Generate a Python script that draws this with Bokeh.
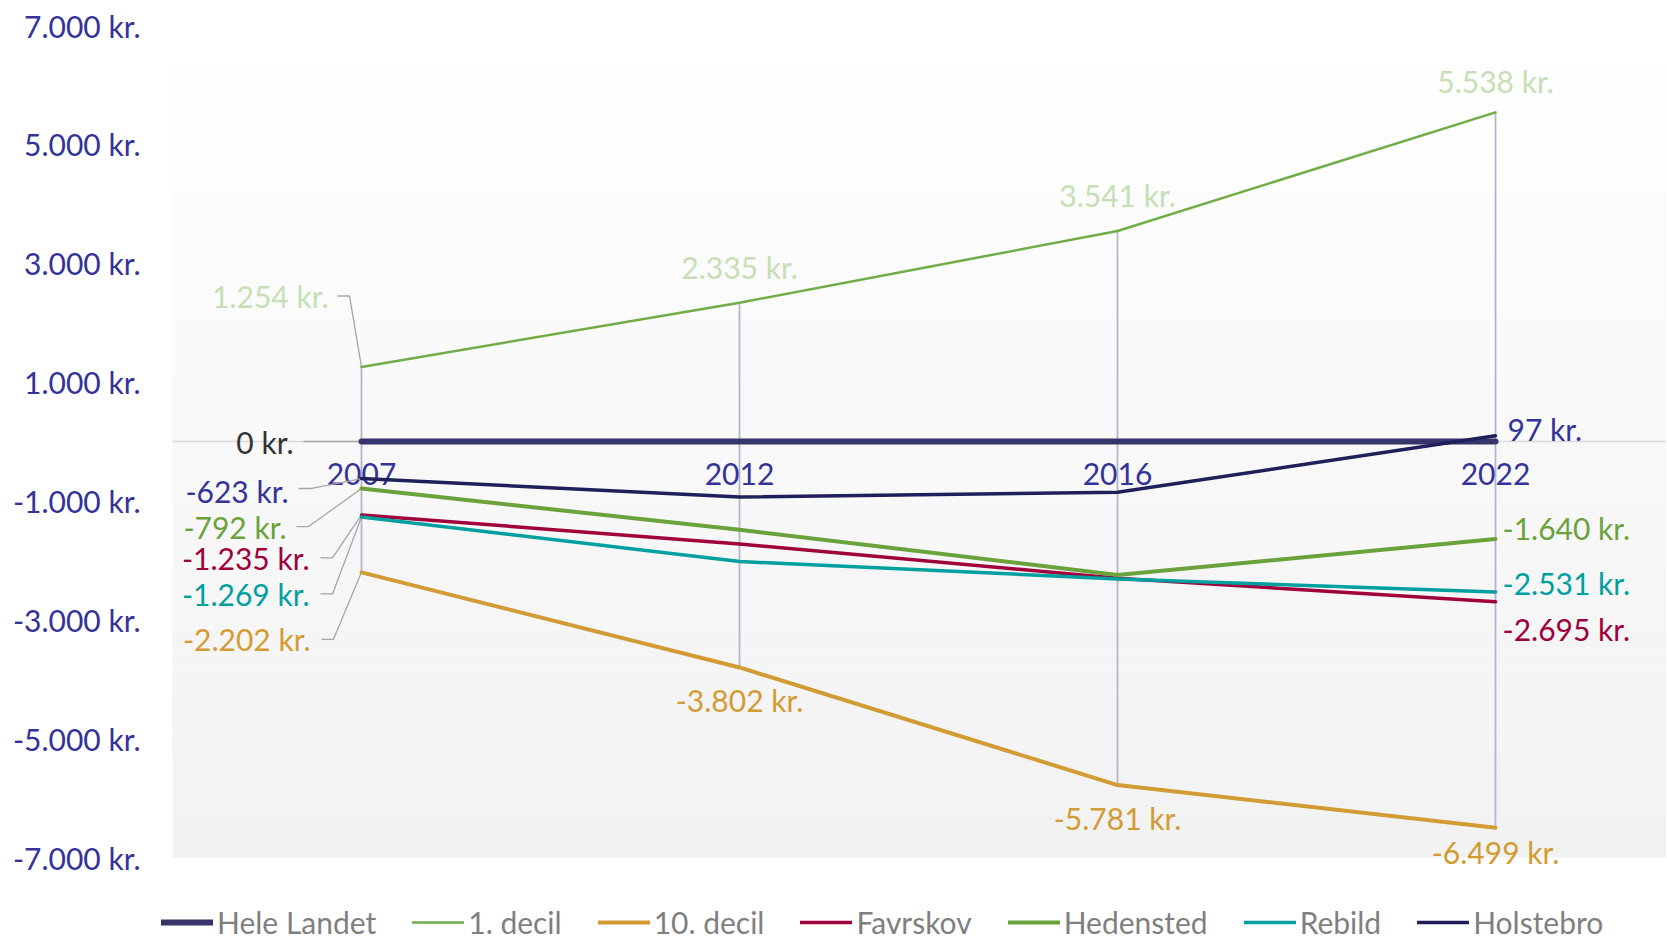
from bokeh.plotting import figure
from bokeh.models import Legend, LegendItem, FixedTicker
from bokeh.core.properties import value
from bokeh.embed import file_html
from bokeh.resources import INLINE

# ---------------- data ----------------
years = ["2007", "2012", "2016", "2022"]
hele_landet = [0, 0, 0, 0]
decil_1 = [1254, 2335, 3541, 5538]
decil_10 = [-2202, -3802, -5781, -6499]
favrskov = [-1235, -1725, -2300, -2695]
hedensted = [-792, -1486, -2245, -1640]
rebild = [-1269, -2020, -2312, -2531]
holstebro = [-623, -935, -855, 97]

y_ticks = [7000, 5000, 3000, 1000, -1000, -3000, -5000, -7000]
plot_area = (-7000, 7000)

# ---------------- style ----------------
FONT = value("Lato")
FS = "30px"
AXIS_BLUE = "#333399"

series = [
    ("Hele Landet", hele_landet, "#35356b", 6.0, "#333333"),
    ("1. decil", decil_1, "#70ad47", 2.5, "#c5e0b4"),
    ("10. decil", decil_10, "#d29b34", 4.0, "#d29b34"),
    ("Favrskov", favrskov, "#a0003c", 3.5, "#a0003c"),
    ("Hedensted", hedensted, "#6aa23c", 4.0, "#6aa23c"),
    ("Rebild", rebild, "#00a0a0", 3.5, "#00a0a0"),
    ("Holstebro", holstebro, "#1f1f5c", 3.5, "#333399"),
]

# label layout: (index, x_offset px, y_offset px, align, leader polyline in px offsets or None)
label_layout = {
    "Hele Landet": [(0, -68, 0, "right", [(-58, 0), (-3, 0)])],
    "1. decil": [(0, -33, -71, "right", [(-24, -71), (-12, -71), (0, 0)]),
                 (1, 0, -36, "center", None),
                 (2, 0, -36, "center", None),
                 (3, 0, -31, "center", None)],
    "10. decil": [(0, -51, 67, "right", [(-40, 67), (-28, 67), (0, 0)]),
                  (1, 0, 33, "center", None),
                  (2, 0, 33, "center", None),
                  (3, 0, 24, "center", None)],
    "Favrskov": [(0, -52, 43, "right", [(-41, 43), (-29, 43), (0, 0)]),
                 (3, 7, 27, "left", None)],
    "Hedensted": [(0, -75, 38, "right", [(-65, 38), (-53, 38), (0, 0)]),
                  (3, 7, -11, "left", None)],
    "Rebild": [(0, -52, 77, "right", [(-41, 77), (-29, 77), (0, 0)]),
               (3, 7, -9, "left", None)],
    "Holstebro": [(0, -73, 12, "right", [(-63, 10), (-51, 10), (0, 0)]),
                  (3, 12, -7, "left", None)],
}


def fmt(v):
    return f"{v:,}".replace(",", ".") + " kr."


# geometry (pixels)
CANVAS_W, CANVAS_H = 1666, 942
FRAME_LEFT = 150          # frame starts here (room for legend at left)
AREA_LEFT = 172           # plot-area (gradient) left edge
CAT_STEP = 378            # px between categories
AREA_TOP, AREA_BOTTOM = 25, 857   # px of +7000 / -7000

FRAME_W = CANVAS_W - FRAME_LEFT
FRAME_H = CANVAS_H
PX_X = CAT_STEP
PX_Y = (AREA_BOTTOM - AREA_TOP) / (plot_area[1] - plot_area[0])

X_START = -0.5 - (AREA_LEFT - FRAME_LEFT) / PX_X
X_END = X_START + FRAME_W / PX_X
Y_END = plot_area[1] + AREA_TOP / PX_Y
Y_START = plot_area[0] - (FRAME_H - AREA_BOTTOM) / PX_Y

p = figure(
    frame_width=FRAME_W, frame_height=FRAME_H,
    x_range=(X_START, X_END), y_range=(Y_START, Y_END),
    x_axis_location=None,
    output_backend="svg", toolbar_location=None,
    min_border=0, min_border_left=FRAME_LEFT,
)
p.outline_line_color = None
p.xgrid.visible = False
p.ygrid.visible = False
p.background_fill_color = "#ffffff"
p.border_fill_color = "#ffffff"

# gradient plot-area background (white -> light grey)
n_bands = 40
top, bot = plot_area[1], plot_area[0]
edges = [top - i * (top - bot) / n_bands for i in range(n_bands + 1)]
cols = []
for i in range(n_bands):
    t = i / (n_bands - 1)
    c = int(round(255 - t * (255 - 0xf2)))
    cols.append("#%02x%02x%02x" % (c, c, c))
p.quad(left=-0.5, right=X_END + 1, top=edges[:-1], bottom=edges[1:], fill_color=cols, line_color=None)

# y axis
ax = p.yaxis[0]
ax.ticker = FixedTicker(ticks=y_ticks)
ax.major_label_overrides = {t: fmt(t) for t in y_ticks}
ax.axis_line_color = None
ax.major_tick_line_color = None
ax.minor_tick_line_color = None
ax.major_tick_out = 0
ax.major_tick_in = 0
ax.major_label_standoff = 10
ax.major_label_text_font = "Lato"
ax.major_label_text_font_size = FS
ax.major_label_text_color = AXIS_BLUE

xs = list(range(len(years)))

# zero line (category axis) across plot area
p.segment(x0=[-0.5], y0=[0], x1=[X_END + 1], y1=[0], line_color="#d9d9d9", line_width=1.5)

# high-low lines
all_vals = [s[1] for s in series]
hi = [max(v[i] for v in all_vals) for i in xs]
lo = [min(v[i] for v in all_vals) for i in xs]
p.segment(x0=xs, y0=hi, x1=xs, y1=lo, line_color="#b4b4c8", line_width=1.75)

# category labels at zero line
p.text(x=xs, y=[0] * len(xs), text=years, text_font=FONT, text_font_size=FS,
       text_color=AXIS_BLUE, text_align="center", text_baseline="middle", y_offset=32)

# leader lines
for name, vals, color, lw, lcolor in series:
    for idx, xo, yo, align, leader in label_layout.get(name, []):
        if leader:
            lx = [idx + dx / PX_X for dx, dy in leader]
            ly = [vals[idx] - dy / PX_Y for dx, dy in leader]
            p.line(lx, ly, line_color="#a6a6a6", line_width=1.3)

# series lines
renderers = {}
for name, vals, color, lw, lcolor in series:
    r = p.line(xs, vals, line_color=color, line_width=lw, line_cap="round", line_join="round")
    renderers[name] = r

# data labels
for name, vals, color, lw, lcolor in series:
    for idx, xo, yo, align, leader in label_layout.get(name, []):
        p.text(x=[idx], y=[vals[idx]], text=[fmt(vals[idx])], text_font=FONT, text_font_size=FS,
               text_color=lcolor, text_align=align, text_baseline="middle",
               x_offset=xo, y_offset=yo)

legend = Legend(
    items=[LegendItem(label=name, renderers=[renderers[name]]) for name, *_ in series],
    orientation="horizontal",
    location=(11, 2),
    label_text_font="Lato", label_text_font_size=FS, label_text_color="#7f7f7f",
    glyph_width=52, glyph_height=20, label_standoff=4, spacing=36,
    padding=0, margin=0,
    background_fill_alpha=0, border_line_alpha=0,
)
p.add_layout(legend, "center")

open("out.html", "w").write(file_html(p, INLINE))
